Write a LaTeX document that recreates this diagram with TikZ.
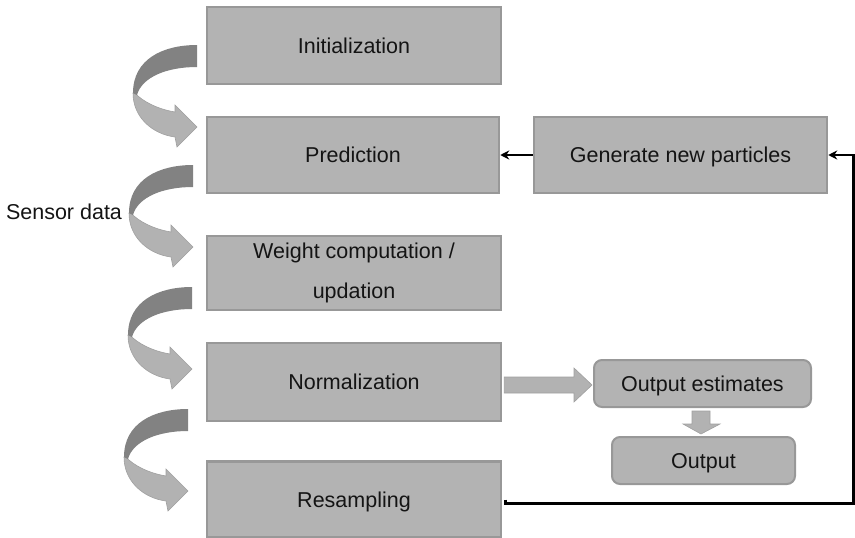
\documentclass[tikz,border=0pt]{standalone}
\usepackage{fontspec}
\setmainfont{Liberation Sans}
\usetikzlibrary{calc,arrows.meta}

\definecolor{boxfill}{RGB}{179,179,179}
\definecolor{boxline}{RGB}{152,152,152}
\definecolor{swooplight}{RGB}{178,178,178}
\definecolor{swoopedge}{RGB}{160,160,160}
\definecolor{swoopdark}{RGB}{130,130,130}
\definecolor{inktext}{RGB}{20,20,20}

\tikzset{
  stagebox/.style={draw=boxline, fill=boxfill, line width=2.5pt,
    minimum width=294pt, inner sep=0pt, text=inktext,
    font=\fontsize{21.5}{25}\selectfont, text height=15pt, text depth=0pt},
  roundbox/.style={stagebox, rounded corners=8pt, line width=2pt},
  blockarrow/.style={fill=swooplight, draw=swoopedge, line width=0.6pt},
  conn/.style={draw=black, line width=2.5pt, -{Stealth[length=9pt,width=9pt]}},
  pics/swoop/.style={code={
    % lower, lighter half of the ribbon, ending in the arrow head
    \fill[swooplight, draw=swoopedge, line width=0.6pt]
      (-62,48) .. controls (-55,56) and (-40,64) .. (-22,67)
      -- (-22,60) -- (0,82) -- (-20,102) -- (-22,92)
      .. controls (-45,89) and (-64,72) .. (-64,48) -- cycle;
    % upper, darker half of the ribbon
    \fill[swoopdark]
      (0,0) .. controls (-34,0) and (-64,14) .. (-64,48)
      -- (-60,50) .. controls (-55,32) and (-30,22) .. (0,22) -- cycle;
  }}
}

\begin{document}
\begin{tikzpicture}[x=1pt, y=-1pt]
\useasboundingbox (0,0) rectangle (855,538);

% main column of stages
\node[stagebox, minimum height=77pt] (init) at (354,45.5) {Initialization};
\node[stagebox, minimum width=292pt, minimum height=76pt] (pred) at (353,155) {Prediction};
\node[stagebox, minimum height=74pt, align=center, text height=, text depth=,
      font=\fontsize{21.5}{40}\selectfont] (weight) at (354,273)
      {Weight computation /\\updation};
\node[stagebox, minimum height=78pt] (norm) at (354,382) {Normalization};
\node[stagebox, minimum height=76pt] (resamp) at (354,499.5) {Resampling};

% right-hand side
\node[stagebox, minimum width=293pt, minimum height=76pt] (gen) at (680.5,155) {Generate new particles};
\node[roundbox, minimum width=217pt, minimum height=47pt] (outest) at (702.5,383.5) {Output estimates};
\node[roundbox, minimum width=183pt, minimum height=47pt] (output) at (703.5,460.5) {Output};

% side label
\node[font=\fontsize{21.5}{25}\selectfont, text=inktext, inner sep=0pt,
      text height=15pt, text depth=0pt] (sensor) at (64,212) {Sensor data};

% curved ribbons between consecutive stages
\pic at (197,45) {swoop};
\pic at (193,165) {swoop};
\pic at (192,287) {swoop};
\pic at (188,409) {swoop};

% block arrow from normalization to the output estimates
\fill[blockarrow]
  ($(norm.east)+(2,-5)$) -- ($(outest.west)+(-19,-6.5)$)
  -- ($(outest.west)+(-19,-15.5)$) -- ($(outest.west)+(-1,1.5)$)
  -- ($(outest.west)+(-19,18.5)$) -- ($(outest.west)+(-19,9.5)$)
  -- ($(norm.east)+(2,11)$) -- cycle;

% block arrow from output estimates down to output
\fill[blockarrow]
  ($(outest.south)+(-10.5,3)$) -- ($(outest.south)+(7.5,3)$)
  -- ($(outest.south)+(7.5,16)$) -- ($(outest.south)+(17.5,16)$)
  -- ($(output.north)+(-2.5,-2)$) -- ($(outest.south)+(-19.5,16)$)
  -- ($(outest.south)+(-10.5,16)$) -- cycle;

% feedback loop: resampling -> generate new particles -> prediction
\draw[conn] ($(resamp.east)+(3,0)$) -- ++(0,4) -- ++(348,0) |- (gen.east);
\draw[conn] (gen.west) -- (pred.east);
\end{tikzpicture}
\end{document}
